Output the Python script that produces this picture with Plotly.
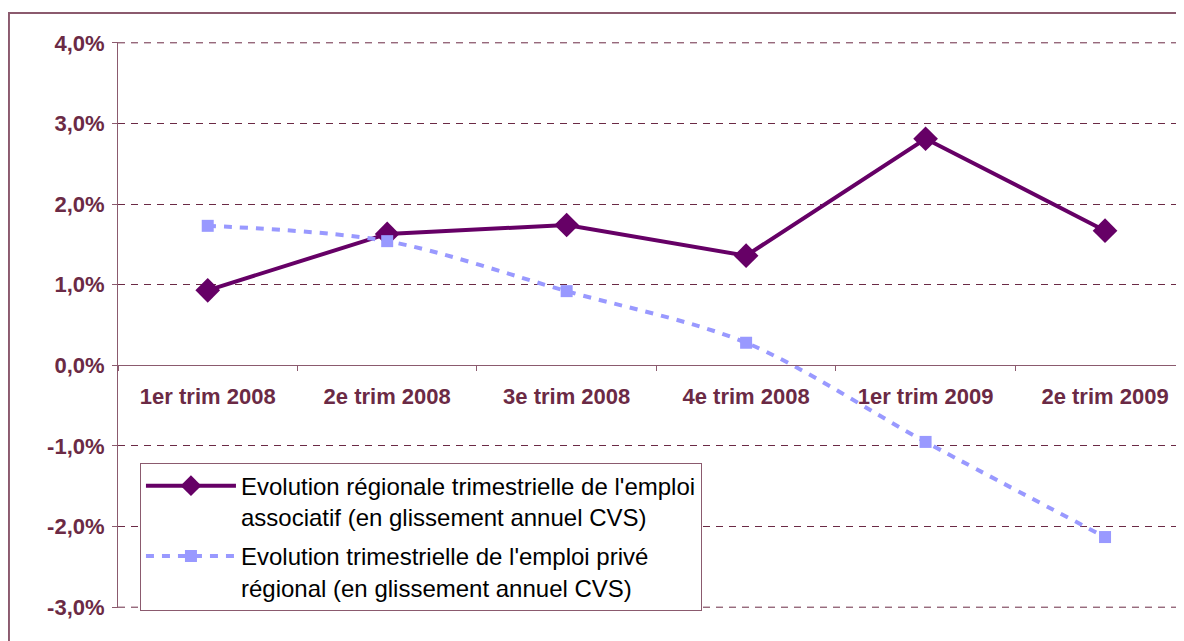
import plotly.graph_objects as go

categories = ["1er trim 2008", "2e trim 2008", "3e trim 2008", "4e trim 2008", "1er trim 2009", "2e trim 2009"]
associatif = [0.93, 1.63, 1.74, 1.36, 2.81, 1.67]
prive = [1.73, 1.54, 0.92, 0.28, -0.95, -2.13]
y_ticks = [-3, -2, -1, 0, 1, 2, 3, 4]
y_ticktext = ["-3,0%", "-2,0%", "-1,0%", "0,0%", "1,0%", "2,0%", "3,0%", "4,0%"]

name1 = "Evolution régionale trimestrielle de l'emploi<br>associatif (en glissement annuel CVS)"
name2 = "Evolution trimestrielle de l'emploi privé<br>régional (en glissement annuel CVS)"

AX = "#6b2a45"
FRAME = "#8b5a6e"
GRID_DASH = "7px,6px"

fig = go.Figure()
fig.add_trace(go.Scatter(
    x=categories, y=associatif, name=name1, mode="lines+markers", legendgroup="a",
    line=dict(color="#660066", width=4),
    marker=dict(symbol="diamond", size=19, color="#660066"),
))
fig.add_trace(go.Scatter(
    x=categories, y=prive, name=name2, mode="lines+markers", legendgroup="b",
    line=dict(color="#9999ff", width=4, dash="8px,8px", shape="spline", smoothing=0.9),
    marker=dict(symbol="square", size=12, color="#9999ff"),
))

fig.update_layout(
    width=1176, height=633,
    margin=dict(l=110, r=0, t=34, b=33),
    paper_bgcolor="white", plot_bgcolor="white",
    font=dict(family="Liberation Sans, Arial", color="black"),
    showlegend=True,
    legend=dict(
        x=0.0206, y=0.257, xanchor="left", yanchor="top",
        bgcolor="white", bordercolor=FRAME, borderwidth=1,
        font=dict(size=24, color="black"),
        itemwidth=90, tracegroupgap=5, valign="top",
    ),
    xaxis=dict(
        type="category", range=[-0.5, 5.44],
        anchor="free", position=3.01 / 7.02,
        showline=True, linecolor=FRAME, linewidth=1,
        ticks="outside", tickson="boundaries", ticklen=5, tickcolor=FRAME,
        ticklabelstandoff=11,
        showgrid=False, zeroline=False,
        tickfont=dict(size=22, color=AX, weight="bold"),
    ),
    yaxis=dict(
        range=[-3.01, 4.01], tickvals=y_ticks, ticktext=y_ticktext,
        showline=True, linecolor=FRAME, linewidth=1,
        ticks="outside", ticklen=5, tickcolor=FRAME,
        ticklabelstandoff=3,
        showgrid=True, gridcolor=AX, griddash=GRID_DASH, gridwidth=1,
        zeroline=False,
        tickfont=dict(size=22, color=AX, weight="bold"),
    ),
)

# edge gridlines (4,0% and -3,0%) that plotly omits at the range ends
for v in (y_ticks[0], y_ticks[-1]):
    fig.add_shape(type="line", xref="paper", yref="y", x0=0, x1=1, y0=v, y1=v,
                  line=dict(color=AX, width=1, dash=GRID_DASH), layer="below")

# outer chart frame
fig.add_shape(type="rect", xref="paper", yref="paper",
              x0=-0.1023, x1=1.2, y0=-0.2, y1=1.0512,
              line=dict(color=FRAME, width=2), layer="below")

fig.write_html("out.html")
